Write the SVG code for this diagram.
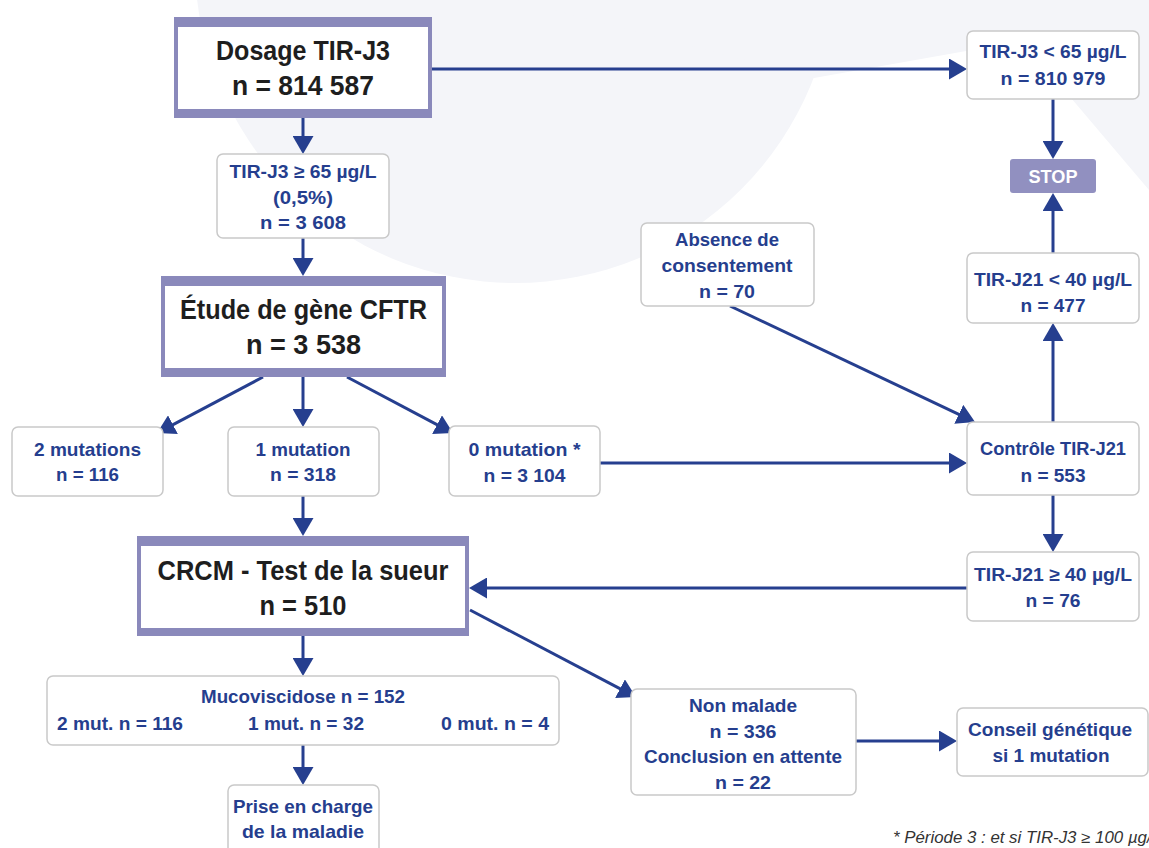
<svg xmlns="http://www.w3.org/2000/svg" width="1149" height="848" viewBox="0 0 1149 848">
<defs>
<style>
.bg{fill:#f4f5f9}
.bx{fill:#fff;stroke:#c9c9c9;stroke-width:1.5}
.tb{fill:#8a89bb}
.in{fill:#fff}
.t{font-family:"Liberation Sans",Arial,sans-serif;font-weight:bold;font-size:18.5px;fill:#253e8e;text-anchor:middle}
.tk{font-family:"Liberation Sans",Arial,sans-serif;font-weight:bold;font-size:28px;fill:#1e1e1e;text-anchor:middle}
.tw{font-family:"Liberation Sans",Arial,sans-serif;font-weight:bold;font-size:18.5px;fill:#fff;text-anchor:middle}
.fn{font-family:"Liberation Sans",Arial,sans-serif;font-style:italic;font-size:16px;fill:#333}
.c{stroke:#263f8f;stroke-width:3;fill:none;marker-end:url(#ah)}
</style>
<marker id="ah" markerUnits="userSpaceOnUse" markerWidth="19" markerHeight="21" refX="10" refY="10.5" orient="auto" viewBox="0 0 19 21">
<path d="M0,0 L18,10.5 L0,21 Z" fill="#263f8f"/>
</marker>
</defs>
<rect width="1149" height="848" fill="#fff"/>
<g id="background">
<circle class="bg" cx="515" cy="-37" r="320"/>
<path class="bg" d="M515,0 L1149,0 L1149,190 L1060,85 L1000,45 L814,78 Z"/>
</g>

<g id="connectors">
<line class="c" x1="303" y1="118" x2="303" y2="146"/>
<line class="c" x1="432" y1="69" x2="959" y2="69"/>
<line class="c" x1="1053" y1="99" x2="1053" y2="151"/>
<line class="c" x1="1053" y1="253" x2="1053" y2="201"/>
<line class="c" x1="1053" y1="422" x2="1053" y2="331"/>
<line class="c" x1="1053" y1="495" x2="1053" y2="544"/>
<line class="c" x1="967" y1="588" x2="477" y2="588"/>
<line class="c" x1="303" y1="238" x2="303" y2="268"/>
<line class="c" x1="263" y1="377" x2="164.1" y2="429.3"/>
<line class="c" x1="303" y1="377" x2="303" y2="419"/>
<line class="c" x1="347" y1="377" x2="445.9" y2="429.3"/>
<line class="c" x1="600" y1="463" x2="959" y2="463"/>
<line class="c" x1="730" y1="306" x2="967.8" y2="418.6"/>
<line class="c" x1="303" y1="496" x2="303" y2="528"/>
<line class="c" x1="303" y1="636" x2="303" y2="668"/>
<line class="c" x1="303" y1="745" x2="303" y2="777"/>
<line class="c" x1="470" y1="610" x2="628.9" y2="693.3"/>
<line class="c" x1="856" y1="741" x2="949" y2="741"/>
</g>

<g id="dosage">
<rect class="tb" x="174" y="17" width="258" height="101"/>
<rect class="in" x="178" y="27" width="250" height="82"/>
<text class="tk" x="303" y="60" textLength="174" lengthAdjust="spacingAndGlyphs">Dosage TIR-J3</text>
<text class="tk" x="303" y="95" textLength="142" lengthAdjust="spacingAndGlyphs">n = 814 587</text>
</g>

<g id="tirj3-high">
<rect class="bx" x="217" y="154" width="172" height="84" rx="6"/>
<text class="t" x="303" y="178" textLength="147" lengthAdjust="spacingAndGlyphs">TIR-J3 ≥ 65 µg/L</text>
<text class="t" x="303" y="204" textLength="60" lengthAdjust="spacingAndGlyphs">(0,5%)</text>
<text class="t" x="303" y="229" textLength="86" lengthAdjust="spacingAndGlyphs">n = 3 608</text>
</g>

<g id="tirj3-low">
<rect class="bx" x="967" y="31" width="172" height="68" rx="6"/>
<text class="t" x="1053" y="58" textLength="147" lengthAdjust="spacingAndGlyphs">TIR-J3 &lt; 65 µg/L</text>
<text class="t" x="1053" y="85" textLength="105" lengthAdjust="spacingAndGlyphs">n = 810 979</text>
</g>

<g id="stop">
<rect x="1010" y="159" width="86" height="34" rx="3" fill="#9190c0"/>
<text class="tw" x="1053" y="183" textLength="49" lengthAdjust="spacingAndGlyphs">STOP</text>
</g>

<g id="tirj21-low">
<rect class="bx" x="967" y="253" width="172" height="70" rx="6"/>
<text class="t" x="1053" y="286" textLength="158" lengthAdjust="spacingAndGlyphs">TIR-J21 &lt; 40 µg/L</text>
<text class="t" x="1053" y="312" textLength="65" lengthAdjust="spacingAndGlyphs">n = 477</text>
</g>

<g id="absence">
<rect class="bx" x="641" y="223" width="173" height="83" rx="6"/>
<text class="t" x="727" y="246" textLength="104" lengthAdjust="spacingAndGlyphs">Absence de</text>
<text class="t" x="727" y="272" textLength="131" lengthAdjust="spacingAndGlyphs">consentement</text>
<text class="t" x="727" y="298" textLength="56" lengthAdjust="spacingAndGlyphs">n = 70</text>
</g>

<g id="etude">
<rect class="tb" x="161" y="276" width="285" height="101"/>
<rect class="in" x="165" y="286" width="277" height="82"/>
<text class="tk" x="303.5" y="319" textLength="247" lengthAdjust="spacingAndGlyphs">Étude de gène CFTR</text>
<text class="tk" x="303.5" y="354" textLength="115" lengthAdjust="spacingAndGlyphs">n = 3 538</text>
</g>

<g id="mut2">
<rect class="bx" x="12" y="427" width="151" height="69" rx="6"/>
<text class="t" x="87.5" y="456" textLength="107" lengthAdjust="spacingAndGlyphs">2 mutations</text>
<text class="t" x="87.5" y="481" textLength="63" lengthAdjust="spacingAndGlyphs">n = 116</text>
</g>

<g id="mut1">
<rect class="bx" x="228" y="427" width="151" height="69" rx="6"/>
<text class="t" x="303" y="456" textLength="95" lengthAdjust="spacingAndGlyphs">1 mutation</text>
<text class="t" x="303" y="481" textLength="66" lengthAdjust="spacingAndGlyphs">n = 318</text>
</g>

<g id="mut0">
<rect class="bx" x="449" y="426" width="151" height="70" rx="6"/>
<text class="t" x="524.5" y="456" textLength="112" lengthAdjust="spacingAndGlyphs">0 mutation *</text>
<text class="t" x="524.5" y="482" textLength="82" lengthAdjust="spacingAndGlyphs">n = 3 104</text>
</g>

<g id="controle">
<rect class="bx" x="967" y="422" width="172" height="73" rx="6"/>
<text class="t" x="1053" y="455" textLength="146" lengthAdjust="spacingAndGlyphs">Contrôle TIR-J21</text>
<text class="t" x="1053" y="482" textLength="65" lengthAdjust="spacingAndGlyphs">n = 553</text>
</g>

<g id="tirj21-high">
<rect class="bx" x="967" y="552" width="172" height="69" rx="6"/>
<text class="t" x="1053" y="581" textLength="158" lengthAdjust="spacingAndGlyphs">TIR-J21 ≥ 40 µg/L</text>
<text class="t" x="1053" y="607" textLength="55" lengthAdjust="spacingAndGlyphs">n = 76</text>
</g>

<g id="crcm">
<rect class="tb" x="137" y="536" width="332" height="100"/>
<rect class="in" x="141" y="546" width="324" height="82"/>
<text class="tk" x="303" y="580" textLength="291" lengthAdjust="spacingAndGlyphs">CRCM - Test de la sueur</text>
<text class="tk" x="303" y="615" textLength="87" lengthAdjust="spacingAndGlyphs">n = 510</text>
</g>

<g id="muco">
<rect class="bx" x="47" y="676" width="512" height="69" rx="6"/>
<text class="t" x="303" y="703" textLength="204" lengthAdjust="spacingAndGlyphs">Mucoviscidose n = 152</text>
<text class="t" x="120" y="730" textLength="126" lengthAdjust="spacingAndGlyphs">2 mut. n = 116</text>
<text class="t" x="306" y="730" textLength="116" lengthAdjust="spacingAndGlyphs">1 mut. n = 32</text>
<text class="t" x="495" y="730" textLength="108" lengthAdjust="spacingAndGlyphs">0 mut. n = 4</text>
</g>

<g id="prise">
<rect class="bx" x="228" y="785" width="151" height="80" rx="6"/>
<text class="t" x="303" y="813" textLength="140" lengthAdjust="spacingAndGlyphs">Prise en charge</text>
<text class="t" x="303" y="838" textLength="122" lengthAdjust="spacingAndGlyphs">de la maladie</text>
</g>

<g id="nonmalade">
<rect class="bx" x="631" y="689" width="225" height="106" rx="6"/>
<text class="t" x="743" y="712" textLength="108" lengthAdjust="spacingAndGlyphs">Non malade</text>
<text class="t" x="743" y="738" textLength="67" lengthAdjust="spacingAndGlyphs">n = 336</text>
<text class="t" x="743" y="763" textLength="198" lengthAdjust="spacingAndGlyphs">Conclusion en attente</text>
<text class="t" x="743" y="789" textLength="56" lengthAdjust="spacingAndGlyphs">n = 22</text>
</g>

<g id="conseil">
<rect class="bx" x="957" y="708" width="191" height="68" rx="6"/>
<text class="t" x="1050" y="736" textLength="164" lengthAdjust="spacingAndGlyphs">Conseil génétique</text>
<text class="t" x="1051" y="762" textLength="117" lengthAdjust="spacingAndGlyphs">si 1 mutation</text>
</g>

<g id="footnote">
<text class="fn" x="893" y="843" textLength="268" lengthAdjust="spacingAndGlyphs">* Période 3 : et si TIR-J3 ≥ 100 µg/L</text>
</g>
</svg>
